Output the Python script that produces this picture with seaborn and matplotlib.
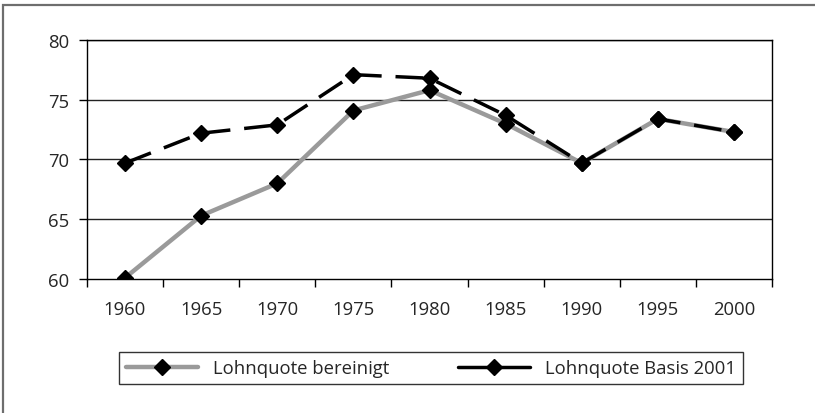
import numpy as np
import pandas as pd
import seaborn as sns
import matplotlib.pyplot as plt
from matplotlib.patches import Rectangle
from matplotlib.lines import Line2D
from matplotlib.ticker import FixedLocator

# data
years = [1960, 1965, 1970, 1975, 1980, 1985, 1990, 1995, 2000]
bereinigt = [60.1, 65.3, 68.0, 74.1, 75.8, 73.0, 69.7, 73.4, 72.3]
basis_2001 = [69.7, 72.2, 72.9, 77.1, 76.8, 73.7, 69.7, 73.4, 72.3]
labels = ["Lohnquote bereinigt", "Lohnquote Basis 2001"]

df = pd.DataFrame({"Jahr": years, "bereinigt": bereinigt, "basis": basis_2001})

sns.set_style("white")
plt.rcParams["font.family"] = ["Open Sans", "DejaVu Sans"]
fs = 13.3

fig = plt.figure(figsize=(8.15, 4.14), dpi=100)
ax = fig.add_axes([87/815, 1-280/414, (772-87)/815, (280-41)/414])

#outer frame of the chart
fig.patches.append(Rectangle((3/815, -0.2), 2, 1.2-6/414, fill=False,
                             edgecolor="#6e6e6e", lw=1.6, transform=fig.transFigure))

#grid lines
for v in [65, 70, 75, 80]:
    ax.axhline(v, color="#222222", lw=1, zorder=0)

sns.lineplot(data=df, x="Jahr", y="bereinigt", ax=ax, color="#9a9a9a", lw=3.2,
             marker="D", ms=7.8, mfc="black", mec="black", mew=1, zorder=3)
sns.lineplot(data=df, x="Jahr", y="basis", ax=ax, color="black", lw=2.5,
             linestyle=(0, (8, 4)), marker="D", ms=7.8, mfc="black",
             mec="black", mew=1, zorder=4)

ax.set_xlim(1957.5, 2002.5)
ax.set_ylim(60, 80)
ax.set_yticks([60, 65, 70, 75, 80])
ax.xaxis.set_major_locator(FixedLocator(np.arange(1957.5, 2003, 5)))
ax.xaxis.set_minor_locator(FixedLocator(years))
ax.set_xticklabels([])
ax.set_xticklabels([str(y) for y in years], minor=True)
ax.tick_params(axis="x", which="major", direction="out", length=6, width=1,
               color="black", bottom=True)
ax.tick_params(axis="x", which="minor", length=0, pad=15, labelsize=fs)
ax.tick_params(axis="y", direction="out", length=6, width=1, color="black",
               left=True, pad=7, labelsize=fs)
ax.set_xlabel("")
ax.set_ylabel("")
for s in ax.spines.values():
    s.set_color("black")
    s.set_linewidth(1)

#legend: Excel draws both keys as solid short lines
h = [Line2D([], [], color="#9a9a9a", lw=3.2, marker="D", ms=7.8, mfc="black", mec="black"),
     Line2D([], [], color="black", lw=2.5, marker="D", ms=7.8, mfc="black", mec="black")]
leg = fig.legend(h, labels, loc="center", bbox_to_anchor=(431/815, 1-369/414), ncol=2,
                 frameon=True, fancybox=False, edgecolor="black", handlelength=3.9,
                 handletextpad=0.8, columnspacing=3.7, borderpad=0.4,
                 borderaxespad=0, fontsize=fs)
leg.get_frame().set_linewidth(1)

fig.savefig("out.png", dpi=100)
